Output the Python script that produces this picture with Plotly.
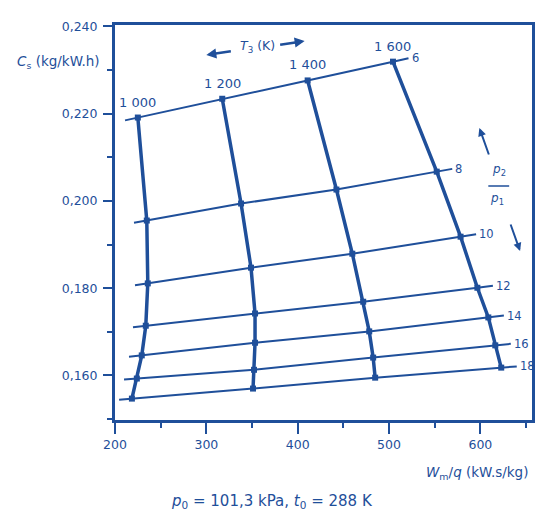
import plotly.graph_objects as go

# ---- data ----
T3 = [1000, 1200, 1400, 1600]
T3_labels = ["1 000", "1 200", "1 400", "1 600"]
PR = [6, 8, 10, 12, 14, 16, 18]

W_1000 = [225.0, 234.8, 235.9, 233.7, 229.3, 223.9, 218.5]
W_1200 = [317.4, 338.0, 348.9, 353.3, 353.3, 352.2, 351.1]
W_1400 = [410.9, 442.4, 459.8, 471.7, 478.3, 482.6, 484.8]
W_1600 = [504.3, 552.2, 578.3, 596.7, 608.7, 616.3, 622.8]

C_1000 = [0.2191, 0.1955, 0.1811, 0.1714, 0.1646, 0.1593, 0.1547]
C_1200 = [0.2234, 0.1994, 0.1847, 0.1742, 0.1675, 0.1613, 0.1570]
C_1400 = [0.2276, 0.2026, 0.1879, 0.1769, 0.1701, 0.1641, 0.1595]
C_1600 = [0.2319, 0.2067, 0.1918, 0.1801, 0.1733, 0.1669, 0.1618]

x_ticks = [200, 300, 400, 500, 600]
y_ticks = [0.160, 0.180, 0.200, 0.220, 0.240]
y_ticktext = ["0,160", "0,180", "0,200", "0,220", "0,240"]

W = [W_1000, W_1200, W_1400, W_1600]
C = [C_1000, C_1200, C_1400, C_1600]

BLUE = "#1f4f9a"
FONT = "DejaVu Sans, Liberation Sans, sans-serif"

# plot-area pixel geometry -> paper coords for decorations
L, R, T, B = 115, 535, 25, 420
def px(x):
    return (x - L) / (R - L)
def py(y):
    return (B - y) / (B - T)

fig = go.Figure()

EXT_L = 14.0
EXT_R = 17.0
annotations = []

# constant pressure-ratio lines
for j, pr in enumerate(PR):
    xs = [W[i][j] for i in range(len(T3))]
    ys = [C[i][j] for i in range(len(T3))]
    s0 = (ys[1] - ys[0]) / (xs[1] - xs[0])
    s1 = (ys[-1] - ys[-2]) / (xs[-1] - xs[-2])
    xl, yl = xs[0] - EXT_L, ys[0] - s0 * EXT_L
    xr, yr = xs[-1] + EXT_R, ys[-1] + s1 * EXT_R
    fig.add_trace(go.Scatter(
        x=[xl] + xs + [xr], y=[yl] + ys + [yr], mode="lines",
        line=dict(color=BLUE, width=2), hoverinfo="skip", showlegend=False))
    annotations.append(dict(
        x=xr, y=yr, xref="x", yref="y", text=str(pr), showarrow=False,
        xanchor="left", yanchor="middle", xshift=1,
        font=dict(family=FONT, size=11.5, color=BLUE)))

# constant turbine-inlet-temperature lines
for i, t in enumerate(T3):
    fig.add_trace(go.Scatter(
        x=W[i], y=C[i], mode="lines+markers",
        line=dict(color=BLUE, width=3.5),
        marker=dict(symbol="square", size=6, color=BLUE),
        hoverinfo="skip", showlegend=False))
    annotations.append(dict(
        x=W[i][0], y=C[i][0], xref="x", yref="y", text=T3_labels[i],
        showarrow=False, xanchor="center", yanchor="bottom", yshift=6,
        font=dict(family=FONT, size=13, color=BLUE)))

# axis titles and notes
annotations += [
    dict(x=px(14), y=py(62), xref="paper", yref="paper", showarrow=False,
         xanchor="left", yanchor="middle",
         text="<i>C</i><sub>s</sub> (kg/kW.h)",
         font=dict(family=FONT, size=13.5, color=BLUE)),
    dict(x=px(426), y=py(473), xref="paper", yref="paper", showarrow=False,
         xanchor="left", yanchor="middle",
         text="<i>W</i><sub>m</sub>/<i>q</i> (kW.s/kg)",
         font=dict(family=FONT, size=13.5, color=BLUE)),
    dict(x=px(273), y=py(501), xref="paper", yref="paper", showarrow=False,
         xanchor="center", yanchor="middle",
         text="<i>p</i><sub>0</sub> = 101,3 kPa, <i>t</i><sub>0</sub> = 288 K",
         font=dict(family=FONT, size=15, color=BLUE)),
    # T3 label with arrows
    dict(x=px(259), y=py(47), xref="paper", yref="paper", showarrow=False,
         xanchor="center", yanchor="middle",
         text="<i>T</i><sub>3</sub> (K)",
         font=dict(family=FONT, size=12.5, color=BLUE)),
    dict(x=px(207), y=py(55), xref="paper", yref="paper", showarrow=True,
         ax=26, ay=-4, text="",
         arrowhead=2, arrowsize=0.8, arrowwidth=2.5, arrowcolor=BLUE),
    dict(x=px(306), y=py(41), xref="paper", yref="paper", showarrow=True,
         ax=-26, ay=4, text="",
         arrowhead=2, arrowsize=0.8, arrowwidth=2.5, arrowcolor=BLUE),
    # p2/p1 label with arrows
    dict(x=px(502), y=py(180), xref="paper", yref="paper", showarrow=False,
         xanchor="center", yanchor="bottom",
         text="<i>p</i><sub>2</sub>",
         font=dict(family=FONT, size=12, color=BLUE)),
    dict(x=px(500), y=py(189), xref="paper", yref="paper", showarrow=False,
         xanchor="center", yanchor="top",
         text="<i>p</i><sub>1</sub>",
         font=dict(family=FONT, size=12, color=BLUE)),
    dict(x=px(482), y=py(128), xref="paper", yref="paper", showarrow=True,
         ax=10, ay=28, text="",
         arrowhead=2, arrowsize=0.8, arrowwidth=2, arrowcolor=BLUE),
    dict(x=px(523), y=py(251), xref="paper", yref="paper", showarrow=True,
         ax=-10, ay=-28, text="",
         arrowhead=2, arrowsize=0.8, arrowwidth=2, arrowcolor=BLUE),
]

shapes = [dict(type="line", xref="paper", yref="paper",
               x0=px(491), x1=px(512), y0=py(186), y1=py(186),
               line=dict(color=BLUE, width=1.5))]

fig.update_layout(
    width=537, height=513,
    margin=dict(l=L, r=537 - R, t=T, b=513 - B),
    paper_bgcolor="white", plot_bgcolor="white",
    font=dict(family=FONT, color=BLUE),
    annotations=annotations, shapes=shapes,
    xaxis=dict(range=[200, 656.5], tickvals=x_ticks,
               ticks="outside", ticklen=11, tickwidth=2, tickcolor=BLUE,
               showline=True, linewidth=3, linecolor=BLUE, mirror=True,
               showgrid=False, zeroline=False,
               minor=dict(ticks="outside", ticklen=5, tickwidth=1.5,
                          tickcolor=BLUE, dtick=50, tick0=200, showgrid=False),
               tickfont=dict(family=FONT, size=12.5, color=BLUE)),
    yaxis=dict(range=[0.1498, 0.2403], tickvals=y_ticks, ticktext=y_ticktext,
               ticks="outside", ticklen=9, tickwidth=2, tickcolor=BLUE,
               ticklabelstandoff=3,
               showline=True, linewidth=3, linecolor=BLUE, mirror=True,
               showgrid=False, zeroline=False,
               minor=dict(ticks="outside", ticklen=5, tickwidth=1.5,
                          tickcolor=BLUE, dtick=0.01, tick0=0.15, showgrid=False),
               tickfont=dict(family=FONT, size=12.5, color=BLUE)),
)

fig.write_html("out.html",
               config={"displayModeBar": False},
               post_script="document.body.style.margin='0';"
                           "document.body.style.overflow='hidden';")
